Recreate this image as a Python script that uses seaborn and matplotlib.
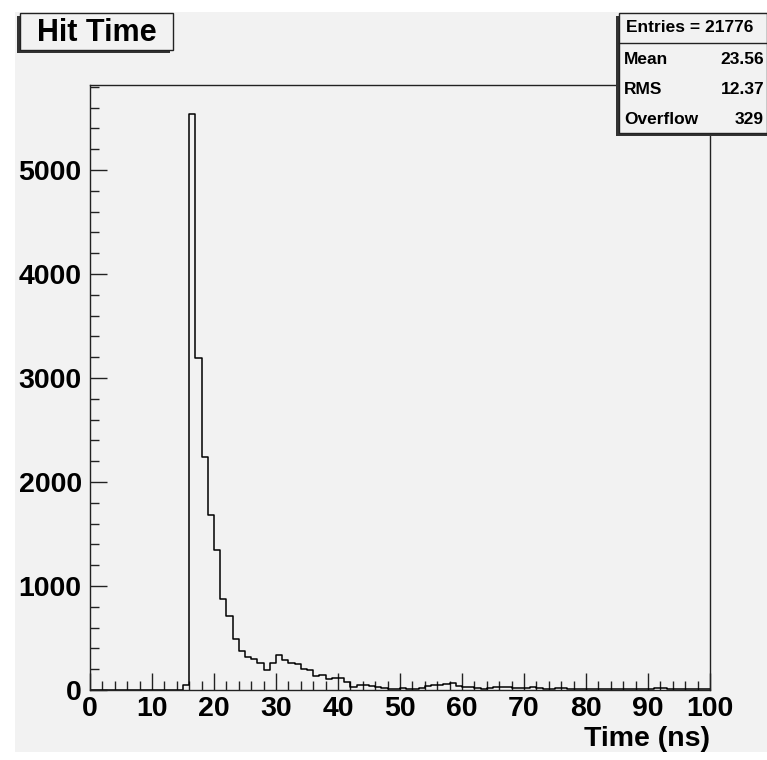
import numpy as np
import matplotlib
matplotlib.use("Agg")
import matplotlib.pyplot as plt
from matplotlib.patches import Rectangle
from matplotlib.ticker import MultipleLocator
import seaborn as sns

# ---- data ----
bin_edges = list(range(0, 101))
counts_low = [0] * 15 + [45]                      # bins 0..15
counts_peak = [5540, 3190, 2237, 1680, 1343, 878, 708, 487, 375, 314,
               295, 263, 192, 262, 340, 288, 263, 247, 202, 192,
               135, 144, 106, 119]                 # bins 16..39
counts_mid = [119, 74, 32, 50, 45, 38, 30, 20, 13, 12,
              18, 8, 6, 16, 35, 45, 50, 55, 68, 40, 33]   # bins 40..60
counts_tail = [25, 22, 13, 15, 26, 30, 28, 20, 22, 18,
               25, 20, 14, 12, 20, 20, 12, 10, 8, 10,
               9, 8, 10, 8, 8, 10, 12, 10, 8, 10,
               18, 16, 10, 8, 10, 8, 6, 8, 6]      # bins 61..99
counts = counts_low + counts_peak + counts_mid + counts_tail
title_text = "Hit Time"
xlabel_text = "Time (ns)"
stats_labels = ["Mean", "RMS", "Overflow"]
stats_values = ["23.56", "12.37", "329"]
entries_text = "Entries = 21776"

centers = [(bin_edges[i] + bin_edges[i + 1]) / 2 for i in range(len(counts))]

plt.rcParams['font.family'] = ['Liberation Sans', 'DejaVu Sans']
plt.rcParams['font.weight'] = 'bold'

W, H = 767, 760
BG = '#f2f2f2'
fig = plt.figure(figsize=(W / 100, H / 100), dpi=100)
fig.patch.set_facecolor('white')

def fx(px):
    return px / W

def fy(py):
    return 1 - py / H

# canvas gray
fig.add_artist(Rectangle((fx(15), fy(752)), fx(767) - fx(15), fy(12) - fy(752),
                         transform=fig.transFigure, facecolor=BG, edgecolor='none', zorder=0))

ax = fig.add_axes([fx(90), fy(690), fx(710) - fx(90), fy(85) - fy(690)])
ax.set_facecolor(BG)
sns.histplot(x=centers, weights=counts, bins=bin_edges, element='step', fill=False,
             color='black', linewidth=1.1, ax=ax)
ax.set_xlim(0, 100)
ax.set_ylim(0, 5817)
ax.set_xlabel('')
ax.set_ylabel('')
ax.xaxis.set_major_locator(MultipleLocator(10))
ax.xaxis.set_minor_locator(MultipleLocator(2))
ax.yaxis.set_major_locator(MultipleLocator(1000))
ax.yaxis.set_minor_locator(MultipleLocator(200))
ax.tick_params(which='both', direction='in', top=False, right=False, width=1, color='#222222')
ax.tick_params(which='major', length=12.5, labelsize=20.5, pad=4)
ax.tick_params(which='minor', length=6.5)
ax.tick_params(axis='y', pad=6)
for lab in ax.get_xticklabels() + ax.get_yticklabels():
    lab.set_fontweight('bold')
for s in ax.spines.values():
    s.set_linewidth(1.0)
    s.set_color('#222222')

fig.text(fx(710), fy(739), xlabel_text, ha='right', va='center', fontsize=20.5, fontweight='bold')

# title box with shadow
fig.add_artist(Rectangle((fx(17), fy(53)), fx(170) - fx(17), fy(16) - fy(53),
                         transform=fig.transFigure, facecolor='#333333', edgecolor='none', zorder=5))
fig.add_artist(Rectangle((fx(20), fy(50)), fx(173) - fx(20), fy(13) - fy(50),
                         transform=fig.transFigure, facecolor=BG, edgecolor='#222222', lw=1, zorder=6))
fig.text(fx(97), fy(33), title_text, ha='center', va='center', fontsize=22, fontweight='bold', zorder=7)

# stats box with shadow
fig.add_artist(Rectangle((fx(616), fy(136)), fx(767) - fx(616), fy(16) - fy(136),
                         transform=fig.transFigure, facecolor='#333333', edgecolor='none', zorder=5))
fig.add_artist(Rectangle((fx(619), fy(133)), fx(766.5) - fx(619), fy(13) - fy(133),
                         transform=fig.transFigure, facecolor=BG, edgecolor='#222222', lw=1, zorder=6))
fig.add_artist(plt.Line2D([fx(619), fx(767)], [fy(43), fy(43)], transform=fig.transFigure,
                          color='#222222', lw=1, zorder=7))
fig.text(fx(690), fy(28), entries_text, ha='center', va='center', fontsize=12.5, fontweight='bold', zorder=8)
row_y = [60, 90, 120]
for lab, val, yy in zip(stats_labels, stats_values, row_y):
    fig.text(fx(624), fy(yy), lab, ha='left', va='center', fontsize=12.5, fontweight='bold', zorder=8)
    fig.text(fx(764), fy(yy), val, ha='right', va='center', fontsize=12.5, fontweight='bold', zorder=8)

fig.savefig('out.png', dpi=100, facecolor=fig.get_facecolor())
